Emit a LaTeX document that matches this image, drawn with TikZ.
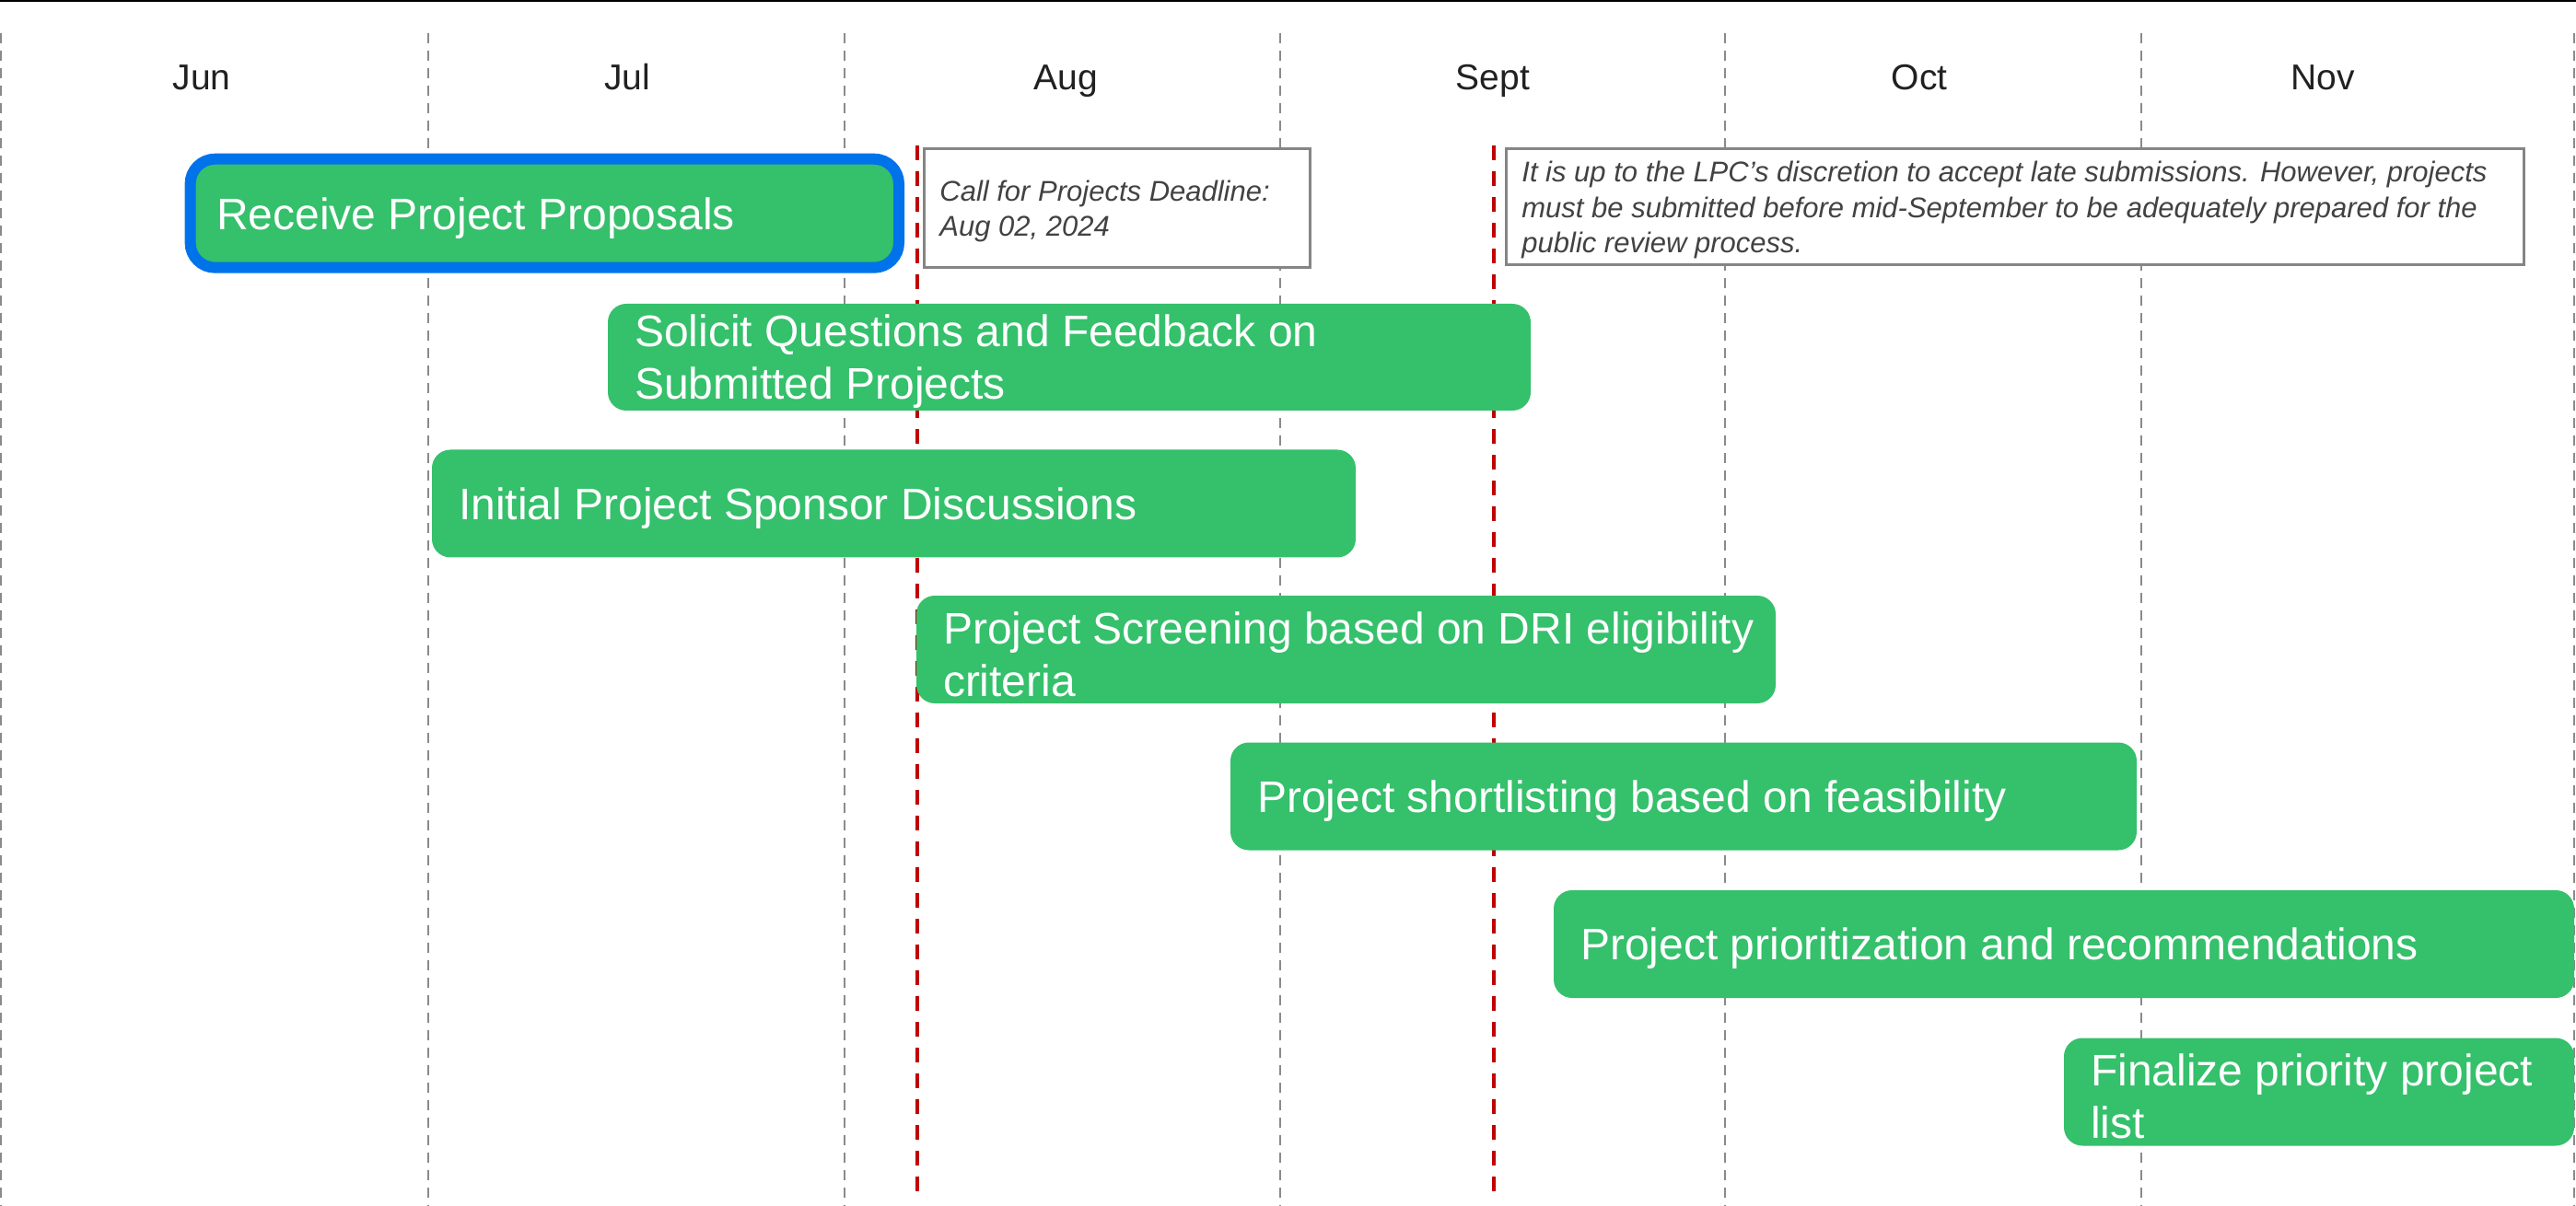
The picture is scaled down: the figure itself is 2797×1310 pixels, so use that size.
\documentclass[tikz,border=0pt]{standalone}
\usepackage{fontspec}
\setmainfont{Liberation Sans}
\definecolor{taskgreen}{HTML}{35C06B}
\definecolor{selblue}{HTML}{0073EA}
\definecolor{gridgray}{HTML}{8A8A8A}
\definecolor{deadred}{HTML}{C00000}
\definecolor{notegray}{HTML}{858585}
\definecolor{notefg}{HTML}{424242}
\definecolor{monthfg}{HTML}{212121}
\begin{document}
\begin{tikzpicture}[x=0.5pt,y=-0.5pt,
  gridline/.style={draw=gridgray, line width=1pt, dash pattern=on 5.5pt off 4pt},
  deadline/.style={draw=deadred, line width=2pt, dash pattern=on 8pt off 6pt},
  taskbox/.style={fill=taskgreen, rounded corners=10pt, inner sep=0pt, minimum height=58.5pt},
  tasktext/.style={text=white, font=\fontsize{24}{28.5}\selectfont, align=left, inner sep=0pt, anchor=west},
  notebox/.style={fill=white, draw=notegray, line width=1.5pt, inner sep=0pt},
  notelabel/.style={text=notefg, font=\fontsize{15.5}{19.3}\selectfont\itshape, align=left, inner sep=0pt, anchor=west},
  month/.style={text=monthfg, font=\fontsize{19.5}{23}\selectfont, anchor=base, inner sep=0pt}]
\useasboundingbox (0,0) rectangle (2797,1310);
\fill[white] (0,0) rectangle (2797,1310);
\draw[black, line width=1pt] (0,1) -- (2797,1);
% month grid
\foreach \gx in {1,465,917,1390,1873,2325,2795}
  \draw[gridline] (\gx,36) -- (\gx,1310);
% month labels
\node[month] (mJun) at (219,98) {Jun};
\node[month] (mJul) at (681,98) {Jul};
\node[month] (mAug) at (1157,98) {Aug};
\node[month] (mSep) at (1621,98) {Sept};
\node[month] (mOct) at (2084,98) {Oct};
\node[month] (mNov) at (2522,98) {Nov};
% deadline lines
\coordinate (r1top) at (996,158);
\coordinate (r1bot) at (996,1296);
\coordinate (r2top) at (1621.5,158);
\coordinate (r2bot) at (1621.5,1296);
\draw[deadline] (r1top) -- (r1bot);
\draw[deadline] (r2top) -- (r2bot);
% tasks
\node[taskbox, draw=selblue, line width=6pt, rounded corners=13.5pt, minimum width=384.7pt, minimum height=59pt] (b1) at (591.3,231.7) {};
\node[tasktext] (b1t) at ([xshift=17pt,yshift=-2.5pt]b1.west) {Receive Project Proposals};
\node[taskbox, minimum width=501pt, minimum height=58pt] (b2) at (1161,388) {};
\node[tasktext] (b2t) at ([xshift=14.5pt,yshift=-2.5pt]b2.west) {Solicit Questions and Feedback on\\Submitted Projects};
\node[taskbox, minimum width=501.5pt] (b3) at (970.5,547) {};
\node[tasktext] (b3t) at ([xshift=14.5pt,yshift=-2.5pt]b3.west) {Initial Project Sponsor Discussions};
\node[taskbox, minimum width=466.5pt] (b4) at (1461.5,705.5) {};
\node[tasktext] (b4t) at ([xshift=14.5pt,yshift=-2.5pt]b4.west) {Project Screening based on DRI eligibility\\criteria};
\node[taskbox, minimum width=492pt] (b5) at (1828,865) {};
\node[tasktext] (b5t) at ([xshift=14.5pt,yshift=-2.5pt]b5.west) {Project shortlisting based on feasibility};
\node[taskbox, minimum width=554pt] (b6) at (2241,1025.5) {};
\node[tasktext] (b6t) at ([xshift=14.5pt,yshift=-2.5pt]b6.west) {Project prioritization and recommendations};
\node[taskbox, minimum width=277pt] (b7) at (2518,1186) {};
\node[tasktext] (b7t) at ([xshift=14.5pt,yshift=-2.5pt]b7.west) {Finalize priority project\\list};
% notes
\node[notebox, minimum width=209.25pt, minimum height=64.5pt] (n1) at (1212.75,226) {};
\node[notelabel] (n1t) at ([xshift=9pt,yshift=-1.75pt]n1.west) {Call for Projects Deadline:\\Aug 02, 2024};
\node[notebox, minimum width=552.5pt, minimum height=63pt] (n2) at (2188,224.5) {};
\node[notelabel] (n2t) at ([xshift=9pt,yshift=-1.75pt]n2.west) {It is up to the LPC’s discretion to accept late submissions. However, projects\\must be submitted before mid-September to be adequately prepared for the\\public review process.};
\end{tikzpicture}
\end{document}
